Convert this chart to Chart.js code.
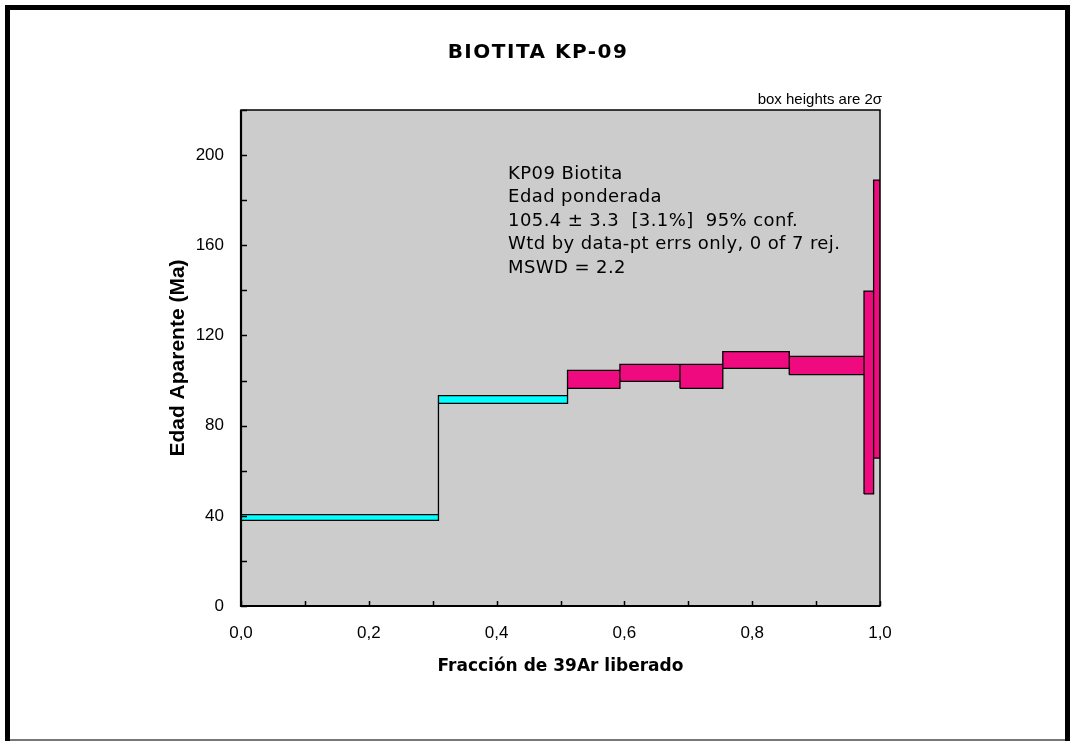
<!DOCTYPE html>
<html>
<head>
<meta charset="utf-8">
<script src="https://cdn.jsdelivr.net/npm/chart.js@4/dist/chart.umd.min.js"></script>
<style>
  html, body { margin: 0; padding: 0; background: #ffffff; }
  #wrap { width: 1070px; height: 741px; position: relative; }
</style>
</head>
<body>
<div id="wrap"><canvas id="c" width="1070" height="741"></canvas></div>
<script>
// ---- Data ----
const chartTitle = 'BIOTITA KP-09';
const xTitle = 'Fracción de 39Ar liberado';
const yTitle = 'Edad Aparente (Ma)';
const noteText = 'box heights are 2σ';
// fraction of 39Ar released in each heating step
const stepFraction = [0.309, 0.202, 0.082, 0.094, 0.067, 0.104, 0.117, 0.015, 0.010];
// apparent age (Ma) of each step and its 2-sigma half height
const stepAge = [39.25, 91.6, 100.5, 103.4, 101.85, 109.1, 106.65, 94.7, 127.25];
const stepErr2s = [1.25, 1.7, 4.0, 3.8, 5.35, 3.7, 4.05, 45.0, 61.65];
// steps used in the weighted (plateau) age
const stepIncluded = [false, false, true, true, true, true, true, true, true];
const annotationLines = [
  'KP09 Biotita',
  'Edad ponderada',
  '105.4 ± 3.3  [3.1%]  95% conf.',
  'Wtd by data-pt errs only, 0 of 7 rej.',
  'MSWD = 2.2'
];
const yMin = 0, yMax = 220, yStep = 20, yLabelEvery = 40;
const xMin = 0, xMax = 1, xStep = 0.1;

// ---- Build datasets from the arrays ----
const COLOR_IN = '#F00A80';
const COLOR_OUT = '#00FFFF';
const bounds = [0];
stepFraction.forEach(f => bounds.push(+(bounds[bounds.length - 1] + f).toFixed(4)));

const boxDatasets = stepAge.map((a, i) => {
  const x0 = bounds[i], x1 = bounds[i + 1];
  const lo = a - stepErr2s[i], hi = a + stepErr2s[i];
  return {
    data: [{x: x0, y: lo}, {x: x0, y: hi}, {x: x1, y: hi}, {x: x1, y: lo}],
    fill: 'shape',
    backgroundColor: stepIncluded[i] ? COLOR_IN : COLOR_OUT,
    borderWidth: 0,
    pointRadius: 0,
    tension: 0
  };
});

const outline = [];
stepAge.forEach((a, i) => {
  const x0 = bounds[i], x1 = bounds[i + 1];
  const lo = a - stepErr2s[i], hi = a + stepErr2s[i];
  outline.push({x: x0, y: lo}, {x: x0, y: hi}, {x: x1, y: hi}, {x: x1, y: lo}, {x: x0, y: lo}, {x: x0, y: null});
  if (i < stepAge.length - 1) {
    const lo2 = stepAge[i + 1] - stepErr2s[i + 1], hi2 = stepAge[i + 1] + stepErr2s[i + 1];
    outline.push({x: x1, y: Math.min(lo, lo2)}, {x: x1, y: Math.max(hi, hi2)}, {x: x1, y: null});
  }
});

const outlineDataset = {
  data: outline,
  fill: false,
  borderColor: '#000000',
  borderWidth: 1.3,
  pointRadius: 0,
  tension: 0,
  spanGaps: false
};

// ---- Decorations plugin ----
const decor = {
  id: 'decor',
  beforeDraw(chart) {
    const {ctx, chartArea: ca} = chart;
    ctx.save();
    ctx.fillStyle = '#ffffff';
    ctx.fillRect(0, 0, chart.width, chart.height);
    // outer frame
    ctx.fillStyle = '#000000';
    ctx.fillRect(5, 5, 1065, 5);
    ctx.fillRect(5, 5, 5, 736);
    ctx.fillRect(1065, 5, 5, 736);
    ctx.fillStyle = '#777777';
    ctx.fillRect(10, 739, 1055, 2);
    // plot background
    ctx.fillStyle = '#CCCCCC';
    ctx.fillRect(ca.left, ca.top, ca.right - ca.left, ca.bottom - ca.top);
    ctx.restore();
  },
  afterDatasetsDraw(chart) {
    const {ctx, chartArea: ca, scales} = chart;
    ctx.save();
    ctx.strokeStyle = '#000000';
    // inward tick marks
    ctx.lineWidth = 1.5;
    ctx.beginPath();
    scales.y.ticks.forEach(t => {
      const py = Math.round(scales.y.getPixelForValue(t.value)) + 0.5;
      ctx.moveTo(ca.left, py); ctx.lineTo(ca.left + 6, py);
    });
    scales.x.ticks.forEach(t => {
      const px = Math.round(scales.x.getPixelForValue(t.value)) + 0.5;
      ctx.moveTo(px, ca.bottom); ctx.lineTo(px, ca.bottom - 5);
    });
    ctx.stroke();
    // plot frame
    ctx.lineWidth = 1.5;
    ctx.strokeRect(ca.left, ca.top, ca.right - ca.left, ca.bottom - ca.top);
    ctx.lineWidth = 2.2;
    ctx.beginPath();
    ctx.moveTo(ca.left, ca.top); ctx.lineTo(ca.left, ca.bottom); ctx.lineTo(ca.right, ca.bottom);
    ctx.stroke();
    ctx.restore();
  },
  afterDraw(chart) {
    const {ctx, chartArea: ca, scales} = chart;
    ctx.save();
    ctx.fillStyle = '#000000';
    // title
    ctx.font = 'bold 20px "DejaVu Sans"';
    ctx.letterSpacing = '1.5px';
    ctx.textAlign = 'center';
    ctx.textBaseline = 'alphabetic';
    ctx.fillText(chartTitle, 538, 58);
    ctx.letterSpacing = '0px';
    // note
    ctx.font = '15px "Liberation Sans"';
    ctx.textAlign = 'right';
    ctx.fillText(noteText, ca.right + 2, ca.top - 6);
    // annotation
    ctx.font = '18px "DejaVu Sans"';
    ctx.letterSpacing = '0.4px';
    ctx.textAlign = 'left';
    const ax = scales.x.getPixelForValue(0.418);
    const ay = scales.y.getPixelForValue(189.4);
    annotationLines.forEach((s, i) => ctx.fillText(s, ax, ay + i * 23.5));
    ctx.restore();
  }
};

new Chart(document.getElementById('c'), {
  type: 'line',
  data: { datasets: [outlineDataset].concat(boxDatasets) },
  options: {
    responsive: false,
    animation: false,
    parsing: true,
    layout: { padding: { left: 160, right: 190, top: 110, bottom: 60 } },
    plugins: { legend: { display: false }, tooltip: { enabled: false }, title: { display: false } },
    scales: {
      x: {
        type: 'linear', min: xMin, max: xMax,
        grid: { display: false, drawTicks: false },
        border: { display: false },
        ticks: {
          stepSize: xStep, autoSkip: false, maxRotation: 0, padding: 17,
          color: '#000000', font: { family: '"Liberation Sans"', size: 17 },
          callback: v => (Math.round(v * 10) % 2 === 0 ? v.toFixed(1).replace('.', ',') : '')
        },
        title: {
          display: true, text: xTitle, color: '#000000',
          font: { family: '"DejaVu Sans"', weight: 'bold', size: 17 },
          padding: { top: 0, bottom: 4 }
        },
        afterFit: s => { s.height = 75; }
      },
      y: {
        type: 'linear', min: yMin, max: yMax,
        grid: { display: false, drawTicks: false },
        border: { display: false },
        ticks: {
          stepSize: yStep, autoSkip: false, padding: 17,
          color: '#000000', font: { family: '"Liberation Sans"', size: 17 },
          callback: v => (v % yLabelEvery === 0 && v < yMax ? String(v) : '')
        },
        title: {
          display: true, text: yTitle, color: '#000000',
          font: { family: '"Liberation Sans"', weight: 'bold', size: 21 },
          padding: { top: 6, bottom: 0 }
        },
        afterFit: s => { s.width = 81; }
      }
    }
  },
  plugins: [decor]
});
</script>
</body>
</html>
